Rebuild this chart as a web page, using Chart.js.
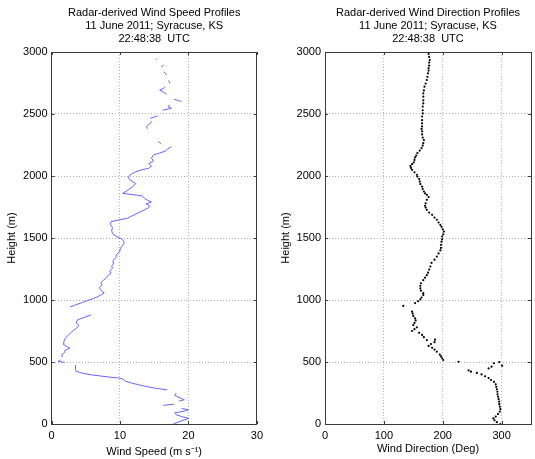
<!DOCTYPE html>
<html><head><meta charset="utf-8">
<script src="https://cdn.jsdelivr.net/npm/chart.js@4"></script>
<style>
body{margin:0;background:#fff;width:535px;height:459px;overflow:hidden;position:relative}
canvas{position:absolute;top:0}
</style></head>
<body>
<canvas id="c1" width="268" height="459" style="left:0"></canvas>
<canvas id="c2" width="265" height="459" style="left:270px"></canvas>
<script>
// ---- data ----
const titleSpeed = ["Radar-derived Wind Speed Profiles", "11 June 2011; Syracuse, KS", "22:48:38  UTC"];
const titleDir = ["Radar-derived Wind Direction Profiles", "11 June 2011; Syracuse, KS", "22:48:38  UTC"];
const heightTicks = [0, 500, 1000, 1500, 2000, 2500, 3000];
const speedTicks = [0, 10, 20, 30];
const dirTicks = [0, 100, 200, 300];

// wind speed profile (m/s) vs height (m); null = gap in the profile
const speedHeights = [0,15,30,45,60,75,90,105,115,125,138,150,160,172,185,195,210,230,250,262,
 275,290,310,330,345,360,370,380,395,410,425,445,475,486,497,505,515,528,540,560,575,595,610,625,645,665,690,715,740,760,775,795,815,840,860,880,900,
 920,932,945,960,980,1000,1020,1040,1055,1075,1100,1120,1140,1160,1180,1200,1215,1235,1255,1275,1296,1320,1340,1365,1390,1410,1435,1457,1480,1497,1515,1535,1560,1585,1610,1632,1645,1660,1690,1720,1745,1760,1775,1790,1805,1820,1840,1860,1880,1900,1920,1940,1955,1970,1990,2010,2035,2050,2062,2080,2100,2120,2145,2170,2185,2200,2220,2236,2248,
 2260,2280,2295,2310,2345,2380,2400,2420,2440,2452,2465,2475,2485,2508,2530,2546,2560,2573,2586,2600,2610,2618,2640,2660,2675,2694,2705,2720,2733,2747,2770,2790,2815,2830,2841,2860,2880,2895,2915,2935,2945,2965,2984];
const speeds = [17.8,18.5,19.2,20.1,19.0,18.2,18.0,19.5,20.0,19.0,null,16.3,17.9,null,18.6,19.4,18.8,18.0,18.2,null,
 16.9,15.0,13.2,11.7,10.8,10.5,9.9,8.2,6.0,4.5,3.6,3.5,3.5,null,1.9,1.0,1.3,null,1.6,1.5,1.9,2.0,2.7,2.2,1.7,1.8,2.0,2.4,2.9,3.3,3.7,4.0,3.6,3.8,4.8,5.8,null,
 3.8,null,2.7,3.5,4.5,5.5,6.5,7.2,7.7,7.3,7.0,7.4,7.2,7.6,8.0,8.3,8.7,8.5,8.9,8.8,9.1,9.0,9.4,9.5,9.9,10.0,10.3,10.6,10.5,10.1,9.4,8.9,8.8,8.9,8.6,8.7,9.8,11.1,12.2,13.3,14.2,14.3,13.8,14.6,14.0,13.6,13.2,10.4,11.0,11.5,12.0,12.3,11.8,11.4,11.2,11.5,12.3,13.2,14.2,14.6,14.2,14.9,14.6,14.9,15.8,16.6,17.0,17.5,null,
 16.0,15.6,null,16.1,null,14.0,13.9,14.3,14.7,null,14.4,15.0,15.5,null,16.2,17.5,17.0,17.3,null,19.0,18.5,17.9,null,16.8,16.4,15.8,16.3,16.6,null,17.3,17.1,null,16.8,16.6,16.4,null,16.0,16.4,null,15.4,15.2,null,13.9];

// wind direction (deg) vs height (m)
const dirHeights = [0,15,30,45,60,80,100,120,140,160,180,200,220,240,260,280,300,320,340,355,370,385,400,412,422,432,448,462,470,490,500,502,516,530,545,560,583,600,615,630,645,660,677,680,700,718,735,750,765,780,798,815,835,852,870,890,906,952,975,990,1005,1020,1040,1055,1075,1094,1115,1135,1160,1180,1200,1220,1245,1270,1300,1325,1350,1376,1400,1420,1445,1470,1490,1512,1530,1552,1570,1590,1606,1625,1647,1665,1687,1705,1727,1745,1760,1780,1808,1830,1848,1860,1875,1895,1915,1935,1955,1975,1995,2010,2030,2050,2065,2080,2095,2110,2130,2150,2165,2185,2205,2225,2245,2265,2290,2310,2335,2360,2380,2400,2425,2450,2480,2505,2530,2560,2585,2610,2640,2667,2690,2720,2745,2774,2800,2828,2850,2868,2890,2915,2935,2960,2984];
const directions = [298,292,288,286,290,294,297,298,297,296,296,295,294,293,293,292,291,290,287,282,278,272,266,258,248,244,278,283,301,287,296,227,201,199,197,195,190,186,182,176,180,186,173,187,168,165,160,148,152,156,150,152,154,153,150,149,148,133,153,158,162,164,167,167,163,162,162,163,167,170,173,175,177,179,181,186,190,193,196,197,197,198,199,199,201,202,200,198,196,193,190,186,182,177,173,171,170,171,173,176,173,170,168,166,165,162,161,160,157,156,152,148,146,145,148,151,152,153,155,157,161,164,166,167,168,166,165,165,164,165,165,165,165,166,166,166,167,167,167,167,168,169,171,173,174,175,176,176,177,177,178,177,176];

// ---- chart setup ----
Chart.defaults.font.family = "'Liberation Sans', Arial, sans-serif";
Chart.defaults.font.size = 11;
Chart.defaults.color = '#000';
Chart.defaults.animation = false;

const AXIS = '#3a3a3a';
const GRID = '#b0b0b0';

// small inward tick marks (MATLAB style) on all four sides
const innerTicks = {
  id: 'innerTicks',
  afterDraw(chart) {
    const {ctx, chartArea: a, scales} = chart;
    ctx.save();
    ctx.strokeStyle = AXIS; ctx.lineWidth = 1;
    ctx.beginPath();
    scales.x.ticks.forEach(t => {
      const px = Math.round(scales.x.getPixelForValue(t.value)) + 0.5;
      ctx.moveTo(px, a.bottom); ctx.lineTo(px, a.bottom - 3);
      ctx.moveTo(px, a.top); ctx.lineTo(px, a.top + 3);
    });
    scales.y.ticks.forEach(t => {
      const py = Math.round(scales.y.getPixelForValue(t.value)) + 0.5;
      ctx.moveTo(a.left, py); ctx.lineTo(a.left + 3, py);
      ctx.moveTo(a.right, py); ctx.lineTo(a.right - 3, py);
    });
    ctx.stroke();
    ctx.restore();
  }
};

function makeChart(id, cfg) {
  const data = cfg.xs.map((v, i) => ({x: v, y: cfg.ys[i]}));
  return new Chart(document.getElementById(id), {
    type: 'scatter',
    data: {datasets: [cfg.dataset(data)]},
    options: {
      responsive: false,
      devicePixelRatio: 1,
      layout: {padding: {left: 0, right: cfg.padRight, top: 0, bottom: 0}},
      plugins: {
        legend: {display: false},
        tooltip: {enabled: false},
        title: {
          display: true, text: cfg.title, color: '#000', fullSize: false,
          font: {size: 11, weight: 'normal', lineHeight: 13 / 11},
          padding: {top: 6, bottom: 0}
        }
      },
      scales: {
        x: {
          type: 'linear', position: 'bottom', min: cfg.xMin, max: cfg.xMax,
          afterBuildTicks: s => { s.ticks = cfg.xTicks.map(v => ({value: v})); },
          afterFit: s => { s.height = 35; },
          ticks: {padding: 5, maxRotation: 0, autoSkip: false, callback: v => String(v)},
          grid: {color: GRID, drawTicks: false, lineWidth: 1},
          border: {display: true, color: AXIS, dash: [1, 2]},
          title: {display: true, text: cfg.xTitle, color: '#000', font: {size: 11, lineHeight: 13 / 11}, padding: {top: 0, bottom: cfg.xTitlePad}}
        },
        x2: {
          type: 'linear', position: 'top', min: cfg.xMin, max: cfg.xMax,
          ticks: {display: false}, grid: {display: false, drawTicks: false},
          border: {display: true, color: AXIS},
          afterFit: s => { s.height = 7; }
        },
        y: {
          type: 'linear', position: 'left', min: 0, max: 3000,
          afterBuildTicks: s => { s.ticks = heightTicks.map(v => ({value: v})); },
          afterFit: s => { s.width = cfg.yWidth; },
          ticks: {padding: 4, autoSkip: false, callback: v => String(v)},
          grid: {color: GRID, drawTicks: false, lineWidth: 1},
          border: {display: true, color: AXIS, dash: [1, 2]},
          title: {display: true, text: 'Height (m)', color: '#000', font: {size: 11, lineHeight: 13 / 11}, padding: {top: cfg.yTitlePad, bottom: 0}}
        },
        y2: {
          type: 'linear', position: 'right', min: 0, max: 3000,
          ticks: {display: false}, grid: {display: false, drawTicks: false},
          border: {display: true, color: AXIS},
          afterFit: s => { s.width = 0; }
        }
      }
    },
    plugins: [innerTicks]
  });
}

makeChart('c1', {
  xs: speeds, ys: speedHeights, title: titleSpeed,
  xMin: 0, xMax: 30, xTicks: speedTicks, xTitle: 'Wind Speed (m s\u207B\u00B9)', xTitlePad: 1,
  yWidth: 51.5, padRight: 7.5, yTitlePad: 5.5,
  dataset: d => ({data: d, showLine: true, spanGaps: false, borderColor: '#5555ff', borderWidth: 0.9, pointRadius: 0, tension: 0})
});

makeChart('c2', {
  xs: directions, ys: dirHeights, title: titleDir,
  xMin: 0, xMax: 350, xTicks: dirTicks, xTitle: 'Wind Direction (Deg)', xTitlePad: 4,
  yWidth: 55, padRight: 4, yTitlePad: 9.5,
  dataset: d => ({data: d, showLine: false, pointRadius: 1.1, pointBorderWidth: 0, backgroundColor: '#000', borderColor: '#000'})
});
</script>
</body></html>
